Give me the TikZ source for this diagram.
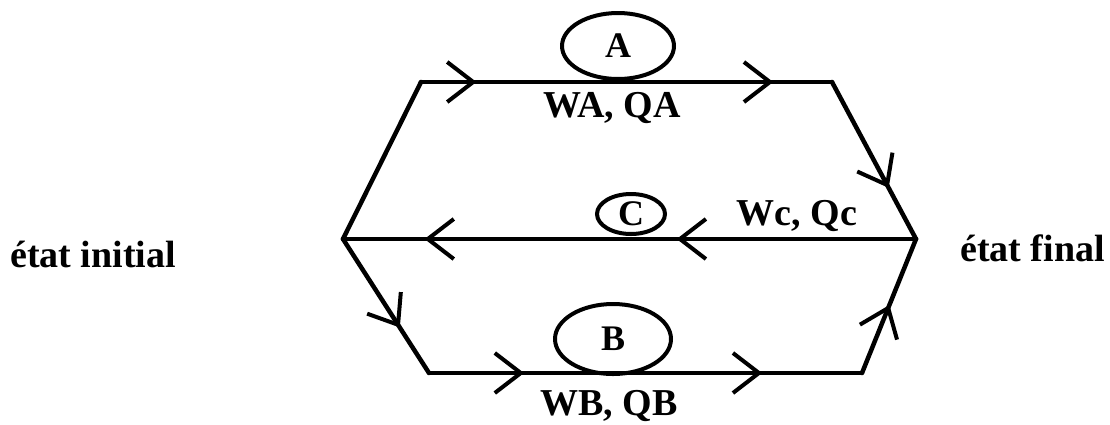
\documentclass[tikz,border=0pt]{standalone}
\usepackage{fontspec}
\setmainfont{Liberation Serif}
\usetikzlibrary{decorations.markings,shapes.geometric}

% open chevron drawn at a marking, pointing along the path
\newcommand\chevronmark{\draw[line width=4pt,line join=miter,line cap=butt] (-26pt,20pt) -- (0pt,0pt) -- (-26pt,-20pt);}

\tikzset{
  edge/.style={line width=4.5pt,line cap=round},
  arr/.style={postaction={decorate,decoration={markings,mark=at position #1 with {\chevronmark}}}},
  bubble/.style={ellipse,draw,line width=4pt,inner sep=0pt,font=\bfseries\fontsize{36pt}{40pt}\selectfont},
  lbl/.style={inner sep=0pt,font=\bfseries\fontsize{38pt}{42pt}\selectfont},
}

\begin{document}
\begin{tikzpicture}[x=1pt,y=-1pt]
\useasboundingbox (0,0) rectangle (1110,424);

% states and corners of the three paths
\coordinate (I)  at (343,239);
\coordinate (F)  at (916,239);
\coordinate (TL) at (421,82);
\coordinate (TR) at (832,82);
\coordinate (BL) at (429,373);
\coordinate (BR) at (862,373);

% path A
\draw[edge] (I) -- (TL);
\draw[edge,arr=0.127,arr=0.849] (TL) -- (TR);
\draw[edge,arr=0.656] (TR) -- (F);

% path C (return)
\draw[edge,arr=0.412,arr=0.852] (F) -- (I);

% path B
\draw[edge,arr=0.64] (I) -- (BL);
\draw[edge,arr=0.212,arr=0.762] (BL) -- (BR);
\draw[edge,arr=0.485] (BR) -- (F);

% transformation labels
\node[bubble,minimum width=112pt,minimum height=66pt] (A) at (618,46) {A};
\node[bubble,minimum width=68pt,minimum height=40pt] (C) at (631,214) {C};
\node[bubble,minimum width=116pt,minimum height=70pt] (B) at (613,339) {B};

\node[lbl,anchor=base] (qa) at (612,117) {WA, QA};
\node[lbl,anchor=base] (qc) at (797,225) {Wc, Qc};
\node[lbl,anchor=base] (qb) at (609,415) {WB, QB};

\node[lbl,anchor=base west] (ini) at (10,267) {état initial};
\node[lbl,anchor=base west] (fin) at (960,261) {état final};
\end{tikzpicture}
\end{document}
